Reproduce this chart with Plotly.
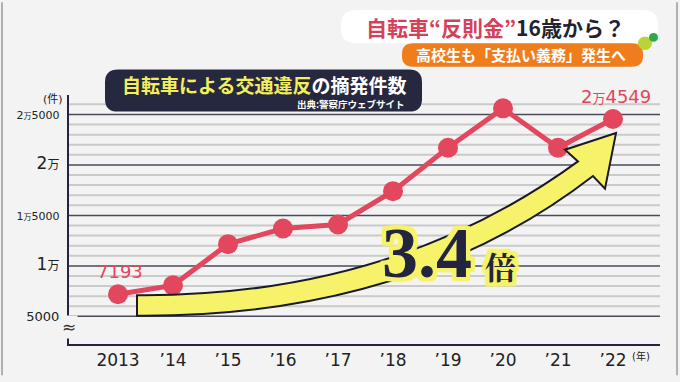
import plotly.graph_objects as go

# ---- data ----
years = [2013, 2014, 2015, 2016, 2017, 2018, 2019, 2020, 2021, 2022]
year_labels = ["2013", "’14", "’15", "’16", "’17", "’18", "’19", "’20", "’21", "’22"]
counts = [7193, 8070, 12153, 13700, 14100, 17400, 21700, 25600, 21700, 24549]
y_tick_vals = [5000, 10000, 15000, 20000, 25000]
y_tick_text = [
    "<span style='font-size:13px'>5000</span>",
    "<span style='font-size:17px'>1</span><span style='font-size:12px'>万</span>",
    "<span style='font-size:11px'>1</span><span style='font-size:8px'>万</span><span style='font-size:11px'>5000</span>",
    "<span style='font-size:17px'>2</span><span style='font-size:12px'>万</span>",
    "<span style='font-size:11px'>2</span><span style='font-size:8px'>万</span><span style='font-size:11px'>5000</span>",
]
grid_vals = list(range(5000, 26001, 1000))

# ---- geometry (pixels) ----
W, H = 680, 382
L, R, T, B = 69, 660, 95, 350
PX_PER_YEAR = 55.0
X_FIRST_PX = 118
Y5000_PX = 321.7
PX_PER_UNIT = 51.7 / 5000

x0 = years[0] - (X_FIRST_PX - L) / PX_PER_YEAR
x1 = x0 + (R - L) / PX_PER_YEAR
ybot = 5000 - (B - Y5000_PX) / PX_PER_UNIT
ytop = ybot + (B - T) / PX_PER_UNIT


def dx(px):
    return x0 + (px - L) / PX_PER_YEAR


def dy(py):
    return ybot + (B - py) / PX_PER_UNIT


def paper_x(px):
    return (px - L) / (R - L)


def paper_y(py):
    return (B - py) / (B - T)


def rrect(xa, ya, xb, yb, r):
    def P(px, py):
        return f"{paper_x(px):.5f},{paper_y(py):.5f}"
    return (f"M {P(xa + r, ya)} L {P(xb - r, ya)} Q {P(xb, ya)} {P(xb, ya + r)} "
            f"L {P(xb, yb - r)} Q {P(xb, yb)} {P(xb - r, yb)} "
            f"L {P(xa + r, yb)} Q {P(xa, yb)} {P(xa, yb - r)} "
            f"L {P(xa, ya + r)} Q {P(xa, ya)} {P(xa + r, ya)} Z")


BG = "#f3f3f3"
RED = "#e2475d"
NAVY = "#23243f"
YEL = "#f6f36a"

fig = go.Figure()
fig.add_trace(go.Scatter(
    x=years, y=counts, mode="lines+markers",
    line=dict(color=RED, width=5),
    marker=dict(color=RED, size=20),
    hoverinfo="skip", showlegend=False,
))

shapes = []
# grid lines
for v in grid_vals:
    major = v % 5000 == 0
    shapes.append(dict(type="line", xref="paper", yref="y", x0=0, x1=1, y0=v, y1=v,
                       line=dict(color="#4a4b5a" if major else "#cacaca",
                                 width=1.5 if major else 2),
                       layer="below"))

# frame
shapes.append(dict(type="line", xref="paper", yref="paper",
                   x0=paper_x(2), x1=paper_x(2), y0=paper_y(0), y1=paper_y(382),
                   line=dict(color="#9a9a9a", width=1.5), layer="below"))
shapes.append(dict(type="line", xref="paper", yref="paper",
                   x0=paper_x(677), x1=paper_x(677), y0=paper_y(0), y1=paper_y(382),
                   line=dict(color="#9a9a9a", width=1.5), layer="below"))


def D(px, py):
    return f"{dx(px):.5f},{dy(py):.3f}"


arrow = (f"M {D(137, 300)} Q {D(392, 302)} {D(578, 163)} "
         f"L {D(565, 151)} L {D(616, 134)} L {D(605, 191)} L {D(593, 178)} "
         f"Q {D(410, 323)} {D(137, 321)} Z")
shapes.append(dict(type="path", xref="x", yref="y", path=arrow,
                   fillcolor=YEL, line=dict(color="#1b1b28", width=2), layer="above"))

# header boxes
shapes.append(dict(type="path", xref="paper", yref="paper", path=rrect(341, 8, 658, 42, 15),
                   fillcolor="#ffffff", line=dict(width=0), layer="above"))
shapes.append(dict(type="path", xref="paper", yref="paper", path=rrect(402, 42, 643, 66, 11),
                   fillcolor="#f07d1c", line=dict(width=0), layer="above"))
shapes.append(dict(type="circle", xref="paper", yref="paper",
                   x0=paper_x(638), x1=paper_x(652), y0=paper_y(49), y1=paper_y(35),
                   fillcolor="#b9d43a", line=dict(width=0), layer="above"))
shapes.append(dict(type="circle", xref="paper", yref="paper",
                   x0=paper_x(649), x1=paper_x(658), y0=paper_y(40.5), y1=paper_y(31.5),
                   fillcolor="#2fa84a", line=dict(width=0), layer="above"))
shapes.append(dict(type="path", xref="paper", yref="paper", path=rrect(105, 69, 422, 112, 13),
                   fillcolor="#262840", line=dict(width=0), layer="above"))

JP = "Noto Sans CJK JP"
NUM = "DejaVu Sans, Noto Sans CJK JP"

ann = []


def A(text, px, py, size, color, family=JP, xanchor="center", shadow=None, **kw):
    font = dict(size=size, color=color, family=family)
    if shadow:
        font["shadow"] = shadow
    d = dict(text=text, xref="paper", yref="paper", x=paper_x(px), y=paper_y(py),
             showarrow=False, xanchor=xanchor, yanchor="middle", font=font)
    d.update(kw)
    ann.append(d)


A("<b><span style='color:#d6415a'>自転車“反則金”</span>16歳から？</b>", 495, 25, 21, "#22222e")
A("<b>高校生も「支払い義務」発生へ</b>", 521, 54, 15, "#ffffff")
A("<b><span style='color:#f2ee5e'>自転車による交通違反</span>の摘発件数</b>", 264, 84, 19, "#ffffff")
A("<b>出典:警察庁ウェブサイト</b>", 407, 104, 9.5, "#ffffff", xanchor="right")
A("(件)", 53, 100, 11, "#222", family=NUM)
A("(年)", 641, 362, 10, "#222", family=NUM)
A("≈", 69, 333, 17, "#333", family=NUM, bgcolor=BG)

# data labels
ann.append(dict(text="7193", x=years[0], y=counts[0], xref="x", yref="y",
                showarrow=False, xshift=2, yshift=23,
                font=dict(size=18, color=RED, family=NUM)))
ann.append(dict(text="2<span style='font-size:13px'>万</span>4549", x=years[-1], y=counts[-1],
                xref="x", yref="y", showarrow=False, xshift=3, yshift=22,
                font=dict(size=18, color=RED, family=NUM)))

glow = ", ".join(f"{a}px {b}px 1px {YEL}" for a in (-4, -2, 0, 2, 4) for b in (-4, -2, 0, 2, 4))
A("<b>3.4</b>", 427, 257, 72, NAVY, family="Liberation Serif", shadow=glow)
A("<b>倍</b>", 500, 270, 31, NAVY, family="Noto Serif CJK JP, Noto Sans CJK JP", shadow=glow)

fig.update_layout(
    width=W, height=H,
    margin=dict(l=L, r=W - R, t=T, b=H - B, pad=0),
    paper_bgcolor=BG, plot_bgcolor=BG,
    shapes=shapes, annotations=ann, showlegend=False,
    xaxis=dict(range=[x0, x1], tickvals=years, ticktext=year_labels,
               showgrid=False, zeroline=False, showline=True, linecolor=NAVY, linewidth=2,
               ticks="", tickfont=dict(size=17, color="#222", family=NUM), fixedrange=True),
    yaxis=dict(range=[ybot, ytop], tickvals=y_tick_vals, ticktext=y_tick_text,
               showgrid=False, zeroline=False, showline=True, linecolor=NAVY, linewidth=2,
               ticks="", ticklabelstandoff=5,
               tickfont=dict(size=13, color="#222", family=NUM), fixedrange=True),
)

fig.write_html("out.html", config={"displayModeBar": False},
               post_script="document.body.style.margin='0';document.body.style.background='" + BG + "';")
